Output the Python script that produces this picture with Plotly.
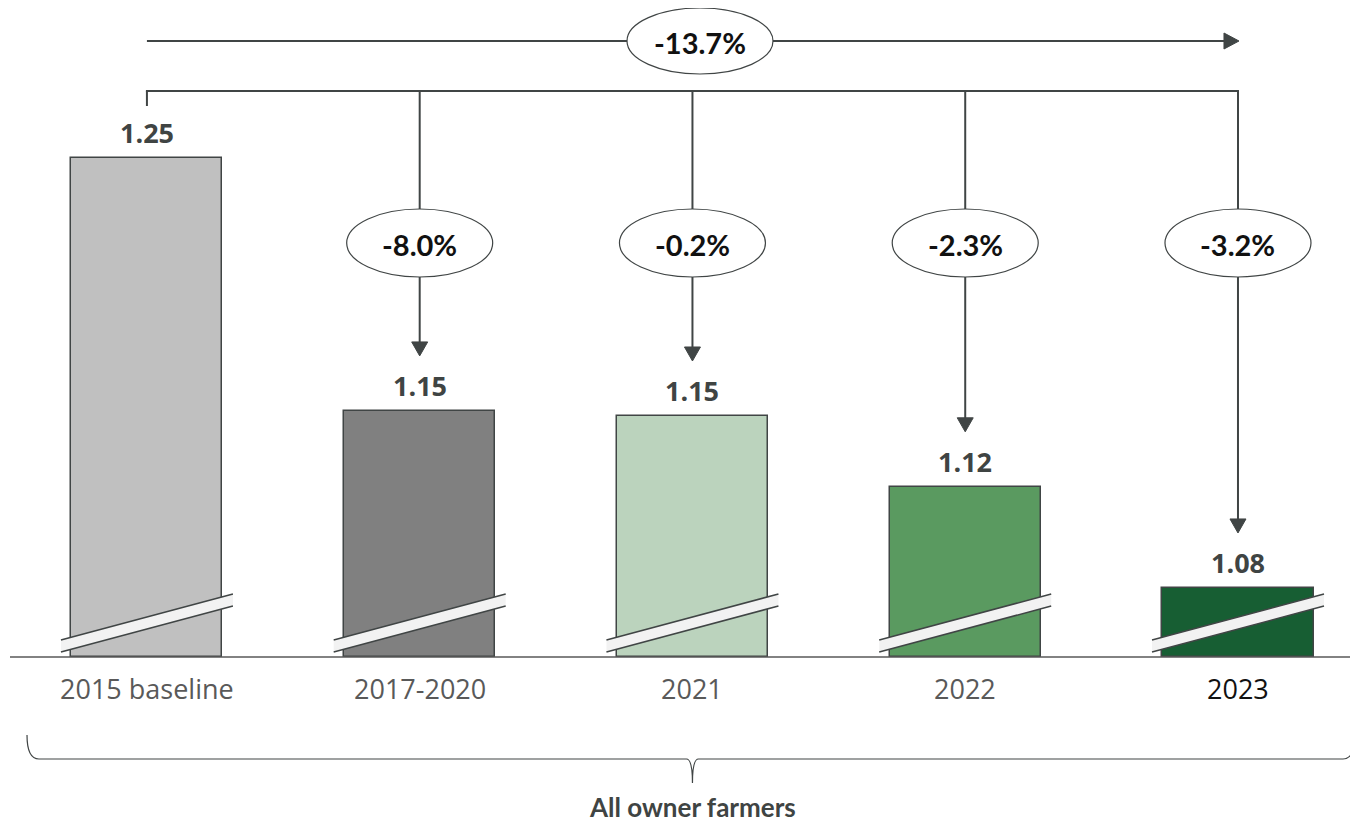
import plotly.graph_objects as go

categories = ["2015 baseline", "2017-2020", "2021", "2022", "2023"]
values = [1.25, 1.15, 1.148, 1.12, 1.08]
value_labels = ["1.25", "1.15", "1.15", "1.12", "1.08"]
changes = ["-8.0%", "-0.2%", "-2.3%", "-3.2%"]
total_change = "-13.7%"
group_label = "All owner farmers"

bar_colors = ["#C0C0C0", "#808080", "#BBD3BD", "#5A9A60", "#175E33"]
tick_colors = ["#595959", "#595959", "#595959", "#595959", "#111111"]
LINE = "#404545"
TXT = "#3F4443"

# page offset (browser body margin) and figure geometry
O = 8
W, H = 1350, 814
ML, MR, MT, MB = 2, 0, 0, 165
PW, PH = W - ML - MR, H - MT - MB

XR = [-0.502, 4.44]
BASE = 1.0527
SCALE = 2529.0  # px per unit
YTOP = BASE + PH / SCALE


def px(x):
    return (x - O - ML) / PW


def py(y):
    return (H - MB - (y - O)) / PH


def xd2px(i):
    return O + ML + (i - XR[0]) / (XR[1] - XR[0]) * PW


def yd2py(v):
    return O + (H - MB) - (v - BASE) / (YTOP - BASE) * PH


fig = go.Figure()
fig.add_trace(go.Bar(
    x=categories, y=[v - BASE for v in values], width=0.554,
    marker=dict(color=bar_colors, line=dict(color=LINE, width=1.5)),
    hoverinfo="skip",
))

shapes = []
annotations = []


def line(x0, y0, x1, y1, w=2):
    shapes.append(dict(type="line", xref="paper", yref="paper",
                       x0=px(x0), y0=py(y0), x1=px(x1), y1=py(y1),
                       line=dict(color=LINE, width=w)))


def tri(points):
    d = "M " + " L ".join(f"{px(a)},{py(b)}" for a, b in points) + " Z"
    shapes.append(dict(type="path", xref="paper", yref="paper", path=d,
                       fillcolor=LINE, line=dict(color=LINE, width=1)))


def ellipse(cx, cy, w, h, text):
    shapes.append(dict(type="circle", xref="paper", yref="paper",
                       x0=px(cx - w / 2), x1=px(cx + w / 2),
                       y0=py(cy + h / 2), y1=py(cy - h / 2),
                       fillcolor="white", line=dict(color=LINE, width=1.2)))
    annotations.append(dict(xref="paper", yref="paper", x=px(cx), y=py(cy + 1),
                            text=f"<b>{text}</b>", showarrow=False,
                            xanchor="center", yanchor="middle",
                            font=dict(family="Lato", size=29, color="#111111")))


centers = [xd2px(i) for i in range(len(categories))]

# top total arrow
TOP_Y = 41
line(centers[0], TOP_Y, centers[-1] - 12, TOP_Y)
tri([(centers[-1] - 14, TOP_Y - 8), (centers[-1] + 1, TOP_Y), (centers[-1] - 14, TOP_Y + 8)])
ellipse(700, TOP_Y, 146, 66, total_change)

# bracket
BR_Y = 91
line(centers[0] - 1, BR_Y, centers[-1] + 1, BR_Y)
line(centers[0], BR_Y, centers[0], 106)
ELL_Y = 243
for i in range(1, len(categories)):
    cx = centers[i]
    tip = yd2py(values[i]) - 55
    line(cx, BR_Y, cx, ELL_Y)
    line(cx, ELL_Y, cx, tip - 12)
    tri([(cx - 8, tip - 14), (cx + 8, tip - 14), (cx, tip)])
    ellipse(cx, ELL_Y, 146, 68, changes[i - 1])

# value labels
for i, (v, lab) in enumerate(zip(values, value_labels)):
    annotations.append(dict(x=i, y=v - BASE, xref="x", yref="y", text=f"<b>{lab}</b>",
                            showarrow=False, yanchor="bottom", yshift=5,
                            font=dict(family="Open Sans", size=27, color=TXT)))

# axis break slashes
for i in range(len(categories)):
    cx = centers[i]
    x0, x1 = cx - 86, cx + 86
    ya0, ya1 = 640, 594   # upper edge
    yb0, yb1 = 652, 606   # lower edge
    d = (f"M {px(x0)},{py(ya0)} L {px(x1)},{py(ya1)} L {px(x1)},{py(yb1)} "
         f"L {px(x0)},{py(yb0)} Z")
    shapes.append(dict(type="path", xref="paper", yref="paper", path=d,
                       fillcolor="#F2F2F2", line=dict(width=0)))
    line(x0, ya0, x1, ya1, 1.5)
    line(x0, yb0, x1, yb1, 1.5)

# category labels
for i, (c, col) in enumerate(zip(categories, tick_colors)):
    annotations.append(dict(x=i, y=py(688), xref="x", yref="paper", text=c,
                            showarrow=False, yanchor="middle",
                            font=dict(family="Open Sans", size=27, color=col)))

# bottom brace
bx0, bx1, bmid = 27, 1355, centers[2]
ytop, ymid, ybot = 735, 759, 783
brace = (f"M {px(bx0)},{py(ytop)} Q {px(bx0)},{py(ymid)} {px(bx0 + 12)},{py(ymid)} "
         f"L {px(bmid - 6)},{py(ymid)} Q {px(bmid)},{py(ymid)} {px(bmid)},{py(ybot)} "
         f"Q {px(bmid)},{py(ymid)} {px(bmid + 6)},{py(ymid)} "
         f"L {px(bx1 - 12)},{py(ymid)} Q {px(bx1)},{py(ymid)} {px(bx1)},{py(ytop)}")
shapes.append(dict(type="path", xref="paper", yref="paper", path=brace,
                   line=dict(color=LINE, width=1.2)))
annotations.append(dict(x=px(bmid), y=py(807), xref="paper", yref="paper",
                        text=f"<b>{group_label}</b>", showarrow=False, yanchor="middle",
                        font=dict(family="Lato", size=26, color=TXT)))

# baseline axis line
shapes.append(dict(type="line", xref="paper", yref="paper", x0=0, x1=1,
                   y0=0, y1=0, line=dict(color="#595959", width=1.5)))

fig.update_layout(
    width=W, height=H,
    margin=dict(l=ML, r=MR, t=MT, b=MB),
    paper_bgcolor="white", plot_bgcolor="white",
    showlegend=False, bargap=0,
    xaxis=dict(type="category", range=XR, showticklabels=False, showgrid=False,
               zeroline=False, showline=False, ticks=""),
    yaxis=dict(range=[0, YTOP - BASE], visible=False, showgrid=False),
    shapes=shapes,
    annotations=annotations,
)

fig.write_html("out.html")
